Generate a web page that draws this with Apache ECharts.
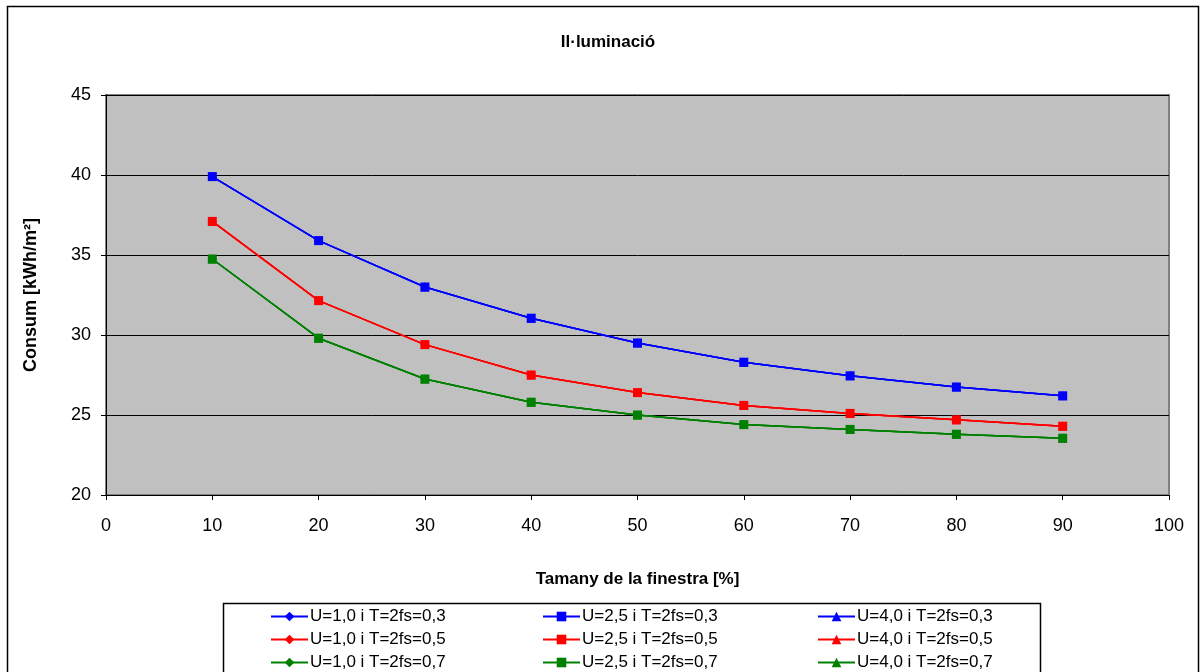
<!DOCTYPE html>
<html>
<head>
<meta charset="utf-8">
<script src="https://cdn.jsdelivr.net/npm/echarts@6/dist/echarts.min.js"></script>
<style>
  html, body { margin: 0; padding: 0; background: #fff; }
  #chart { width: 1200px; height: 672px; }
</style>
</head>
<body>
<div id="chart"></div>
<script>
    // dades llegides del gràfic
    var xValues = [10, 20, 30, 40, 50, 60, 70, 80, 90];
    var consumT03 = [39.9, 35.9, 33.0, 31.05, 29.5, 28.3, 27.45, 26.75, 26.2];
    var consumT05 = [37.1, 32.15, 29.4, 27.5, 26.4, 25.6, 25.1, 24.7, 24.3];
    var consumT07 = [34.75, 29.8, 27.25, 25.8, 25.0, 24.4, 24.1, 23.8, 23.55];
    var uLabels = ['1,0', '2,5', '4,0'];
    var tLabels = ['0,3', '0,5', '0,7'];
    var uSymbols = ['diamond', 'rect', 'triangle'];
    var tColors = ['#0000FF', '#FF0000', '#008000'];
    var tData = [consumT03, consumT05, consumT07];

    var series = [];
    var legendCols = [[], [], []];
    for (var t = 0; t < 3; t++) {
        for (var u = 0; u < 3; u++) {
            var name = 'U=' + uLabels[u] + ' i T=2fs=' + tLabels[t];
            legendCols[u].push(name);
            var pts = [];
            for (var i = 0; i < xValues.length; i++) {
                pts.push([xValues[i], tData[t][i]]);
            }
            series.push({
                name: name,
                type: 'line',
                data: pts,
                symbol: uSymbols[u],
                symbolSize: 9,
                z: u == 1 ? 5 : 2,
                lineStyle: { color: tColors[t], width: 1.5 },
                itemStyle: { color: tColors[t] },
                emphasis: { disabled: true },
                animation: false
            });
        }
    }

    function makeLegend(col, left) {
        return {
            orient: 'vertical',
            left: left,
            top: 608,
            padding: 0,
            height: 66,
            itemWidth: 37,
            itemHeight: 12,
            itemGap: 6,
            data: legendCols[col],
            textStyle: { fontFamily: 'Liberation Sans', fontSize: 17, color: '#000', padding: [0, 0, 0, -3] },
            selectedMode: false
        };
    }

    var option = {
        backgroundColor: '#fff',
        animation: false,
        title: {
            text: 'Il·luminació',
            left: 603,
            textAlign: 'center',
            top: 29,
            textStyle: { fontFamily: 'Liberation Sans', fontSize: 17, fontWeight: 'bold', color: '#000' }
        },
        graphic: [
            { type: 'rect', shape: { x: 7.5, y: 6.5, width: 1191, height: 680 },
              style: { fill: null, stroke: '#000', lineWidth: 1.5 }, silent: true, z: -1 },
            { type: 'rect', shape: { x: 223.5, y: 603.5, width: 817, height: 80 },
              style: { fill: '#fff', stroke: '#000', lineWidth: 1.5 }, silent: true, z: -1 }
        ],
        legend: [makeLegend(0, 270), makeLegend(1, 542), makeLegend(2, 817)],
        grid: {
            left: 106, top: 95, right: 31, bottom: 177,
            show: true, backgroundColor: '#C0C0C0', borderColor: '#808080', borderWidth: 2
        },
        xAxis: {
            type: 'value',
            min: 0, max: 100, interval: 10,
            name: 'Tamany de la finestra [%]',
            nameLocation: 'middle',
            nameGap: 76,
            nameTextStyle: { fontFamily: 'Liberation Sans', fontSize: 17, fontWeight: 'bold', color: '#000' },
            axisLine: { lineStyle: { color: '#000', width: 1 } },
            axisTick: { show: true, length: 5, lineStyle: { color: '#000' } },
            axisLabel: { fontFamily: 'Liberation Sans', fontSize: 18, color: '#000', margin: 22 },
            splitLine: { show: false }
        },
        yAxis: {
            type: 'value',
            min: 20, max: 45, interval: 5,
            name: 'Consum [kWh/m²]',
            nameLocation: 'middle',
            nameGap: 66,
            nameTextStyle: { fontFamily: 'Liberation Sans', fontSize: 18, fontWeight: 'bold', color: '#000' },
            axisLine: { show: true, lineStyle: { color: '#000', width: 1 } },
            axisTick: { show: true, length: 5, lineStyle: { color: '#000' } },
            axisLabel: { fontFamily: 'Liberation Sans', fontSize: 18, color: '#000', margin: 15 },
            splitLine: { show: true, lineStyle: { color: '#000', width: 1 } }
        },
        series: series
    };

    var myChart = echarts.init(document.getElementById('chart'));
    myChart.setOption(option);
</script>
</body>
</html>
